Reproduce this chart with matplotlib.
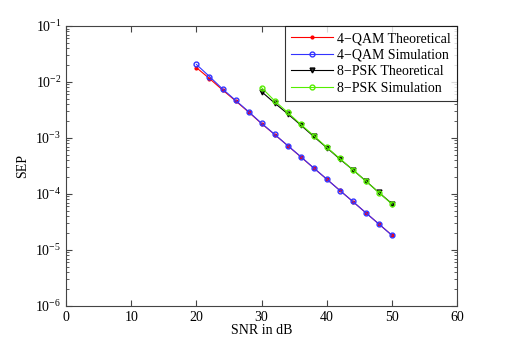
import numpy as np
import matplotlib
matplotlib.use("Agg")
import matplotlib.pyplot as plt

plt.rcParams['font.family'] = ['Liberation Serif', 'DejaVu Serif']
plt.rcParams['mathtext.fontset'] = 'stix'

snr_qam = [20, 22, 24, 26, 28, 30, 32, 34, 36, 38, 40, 42, 44, 46, 48, 50]
qam_theory = [1.8e-2, 1.15e-2, 7.2e-3, 4.6e-3, 2.9e-3, 1.8e-3, 1.15e-3, 7.3e-4,
              4.6e-4, 2.9e-4, 1.83e-4, 1.16e-4, 7.3e-5, 4.6e-5, 2.9e-5, 1.83e-5]
qam_sim = [2.05e-2, 1.25e-2, 7.5e-3, 4.7e-3, 2.95e-3, 1.82e-3, 1.16e-3, 7.3e-4,
           4.65e-4, 2.9e-4, 1.84e-4, 1.15e-4, 7.35e-5, 4.6e-5, 2.9e-5, 1.82e-5]

snr_psk = [30, 32, 34, 36, 38, 40, 42, 44, 46, 48, 50]
psk_theory = [6.7e-3, 4.2e-3, 2.7e-3, 1.7e-3, 1.06e-3, 6.7e-4, 4.2e-4, 2.7e-4,
              1.7e-4, 1.06e-4, 6.7e-5]
psk_sim = [7.9e-3, 4.6e-3, 2.85e-3, 1.75e-3, 1.1e-3, 6.8e-4, 4.3e-4, 2.7e-4,
           1.7e-4, 1.05e-4, 6.6e-5]

fig = plt.figure(figsize=(5.05, 3.46), dpi=100)
ax = fig.add_axes([0.131, 0.116, 0.774, 0.809])

ax.semilogy(snr_qam, qam_theory, '-', color='red', marker='.', markersize=4,
            linewidth=0.8, label='4\u2212QAM Theoretical')
ax.semilogy(snr_qam, qam_sim, '-', color='#3333ff', marker='o', markersize=3.5,
            markerfacecolor='none', linewidth=0.8, label='4\u2212QAM Simulation')
ax.semilogy(snr_psk, psk_theory, '-', color='black', marker='v', markersize=3.5,
            markerfacecolor='#333333', linewidth=0.8, label='8\u2212PSK Theoretical')
ax.semilogy(snr_psk, psk_sim, '-', color='#55ee00', marker='o', markersize=3.5,
            markerfacecolor='none', linewidth=0.8, label='8\u2212PSK Simulation')

ax.set_xlim(0, 60)
ax.set_ylim(1e-6, 1e-1)
ax.set_xticks([0, 10, 20, 30, 40, 50, 60])
ax.tick_params(which='both', direction='in', top=True, right=True, labelsize=10,
               color='#444444')
ax.tick_params(which='major', length=4)
ax.tick_params(which='minor', length=2)
for s in ax.spines.values():
    s.set_color('#444444')
    s.set_linewidth(0.8)

ax.set_xlabel('SNR in dB', fontsize=10, labelpad=0)
ax.set_ylabel('SEP', fontsize=10, labelpad=4)

leg = ax.legend(loc='upper right', fontsize=10, fancybox=False, edgecolor='black',
                borderaxespad=0, handlelength=3.0, labelspacing=0.25,
                borderpad=0.45, handletextpad=0.3)
leg.get_frame().set_linewidth(0.8)

fig.savefig('out.png', dpi=100)
